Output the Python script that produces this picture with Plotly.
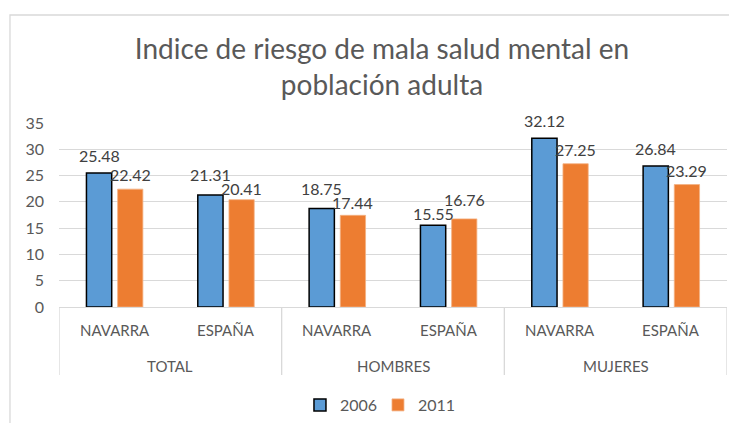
import plotly.graph_objects as go

groups = ["TOTAL", "TOTAL", "HOMBRES", "HOMBRES", "MUJERES", "MUJERES"]
regions = ["NAVARRA", "ESPAÑA", "NAVARRA", "ESPAÑA", "NAVARRA", "ESPAÑA"]
values_2006 = [25.48, 21.31, 18.75, 15.55, 32.12, 26.84]
values_2011 = [22.42, 20.41, 17.44, 16.76, 27.25, 23.29]
series_names = ["2006", "2011"]
title_text = "Indice de riesgo de mala salud mental en<br>población adulta"

FONT = "Lato"
GRAY = "#595959"
LINE = "#d9d9d9"

W, H = 729, 440
ML, MR, MT, MB = 51, 10, 115, 141
PLOT_H = H - MT - MB
Y_MAX = 35
PX = PLOT_H / Y_MAX  # pixels per unit

keys = [f"{g} · {r}" for g, r in zip(groups, regions)]
n = len(keys)

fig = go.Figure()
fig.add_trace(go.Bar(
    x=keys, y=values_2006, name=series_names[0],
    marker=dict(color="#5b9bd5", line=dict(color="#000000", width=1.5)),
))
fig.add_trace(go.Bar(
    x=keys, y=values_2011, name=series_names[1],
    marker=dict(color="#ed7d31", line=dict(color="#f4b183", width=0.8)),
))

# data labels, nudged apart vertically when the two labels of a pair would collide
slot = 0.14
GAP_A, GAP_B, SEP = 11, 8, 14
for i, (a, b) in enumerate(zip(values_2006, values_2011)):
    la = a * PX + GAP_A
    lb = b * PX + GAP_B
    if abs(la - lb) < SEP:
        mid = (la + lb) / 2
        if la >= lb:
            la, lb = mid + SEP / 2, mid - SEP / 2
        else:
            la, lb = mid - SEP / 2, mid + SEP / 2
    fig.add_annotation(x=i - slot, y=a, xref="x", yref="y", text=f"{a:.2f}", showarrow=False,
                       yanchor="bottom", yshift=la - a * PX - 5,
                       font=dict(family=FONT, size=16, color="#404040"))
    fig.add_annotation(x=i + slot, y=b, xref="x", yref="y", text=f"{b:.2f}", showarrow=False,
                       yanchor="bottom", yshift=lb - b * PX - 5,
                       font=dict(family=FONT, size=16, color="#404040"))

# category labels (two levels)
for i, r in enumerate(regions):
    fig.add_annotation(x=i, y=0, xref="x", yref="paper", text=r, showarrow=False,
                       yanchor="middle", yshift=-23, font=dict(family=FONT, size=15, color=GRAY))
group_names = []
for g in groups:
    if g not in group_names:
        group_names.append(g)
for g in group_names:
    idx = [i for i, gg in enumerate(groups) if gg == g]
    center = sum(idx) / len(idx)
    fig.add_annotation(x=center, y=0, xref="x", yref="paper", text=g, showarrow=False,
                       yanchor="middle", yshift=-59, font=dict(family=FONT, size=15, color=GRAY))

# dividers of the category axis
bounds = [-0.5] + [i + 0.5 for i in range(n - 1) if groups[i] != groups[i + 1]] + [n - 0.5]
for bx in bounds:
    fig.add_shape(type="line", xref="x", yref="paper", x0=bx, x1=bx, y0=0, y1=-68 / PLOT_H,
                  line=dict(color=LINE, width=1.3), layer="below")

fig.update_layout(
    width=W, height=H,
    margin=dict(l=ML, r=MR, t=MT, b=MB),
    paper_bgcolor="white", plot_bgcolor="white",
    font=dict(family=FONT, color=GRAY, size=15),
    title=dict(text=title_text, x=0.513, xanchor="center", y=1 - 51 / H, yanchor="middle",
               font=dict(family=FONT, size=28, color=GRAY)),
    barmode="group", bargap=0.44, bargroupgap=0.19,
    showlegend=True,
    legend=dict(orientation="h", x=0.4775, xanchor="center", y=-98 / PLOT_H, yanchor="middle",
                font=dict(family=FONT, size=16, color=GRAY), itemwidth=30,
                entrywidth=33, entrywidthmode="pixels"),
)
fig.update_yaxes(range=[0, Y_MAX], dtick=5, showgrid=True, gridcolor=LINE, gridwidth=1,
                 zeroline=False, showline=False, ticks="", tickfont=dict(size=16, color=GRAY),
                 ticklabelstandoff=14)
fig.update_xaxes(type="category", categoryorder="array", categoryarray=keys,
                 range=[-0.5, n - 0.5], showticklabels=False, showline=True,
                 linecolor=LINE, linewidth=1.3, ticks="", showgrid=False)

fig.add_shape(type="rect", xref="paper", yref="paper", x0=-0.0734, x1=1.2, y0=-1.0,
              y1=(PLOT_H + 108) / PLOT_H,
              line=dict(color=LINE, width=1.3), fillcolor="rgba(0,0,0,0)", layer="below")

fig.write_html("out.html")
